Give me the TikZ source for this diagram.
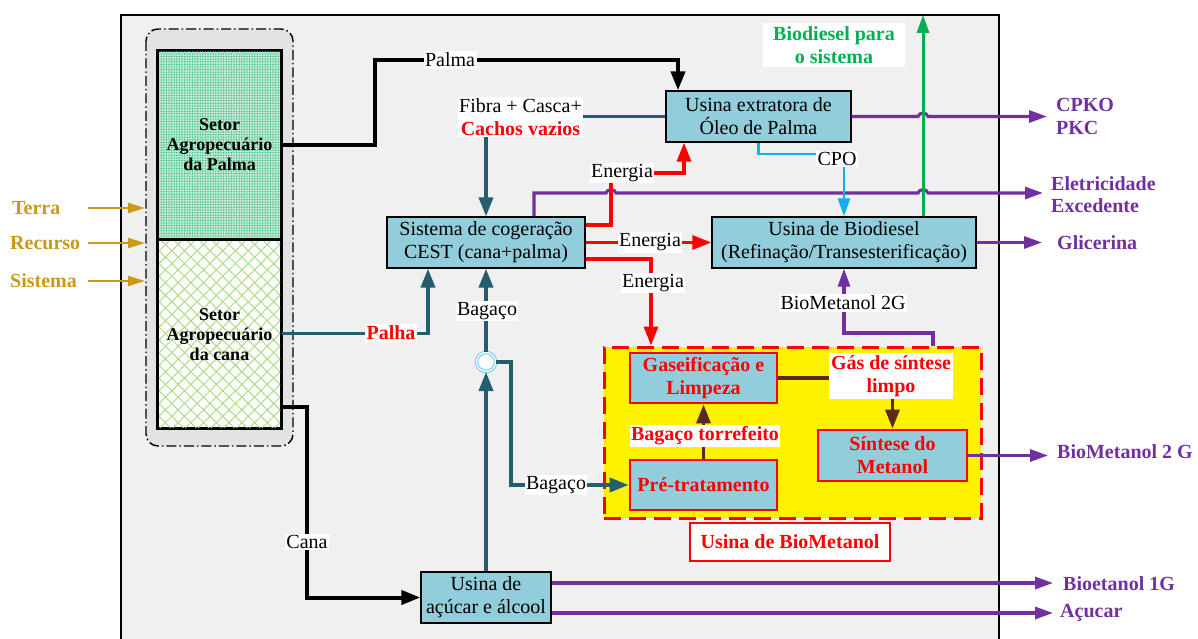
\documentclass[tikz,border=0pt]{standalone}
\usepackage{fontspec}
\setmainfont{Liberation Serif}
\usetikzlibrary{arrows.meta,patterns.meta}
\definecolor{boxblue}{HTML}{92CDDC}
\definecolor{framegray}{HTML}{F0F0F0}
\definecolor{groupgray}{HTML}{E3E3E3}
\definecolor{tealdk}{HTML}{245D6C}
\definecolor{purp}{HTML}{7030A0}
\definecolor{gold}{HTML}{C99A1A}
\definecolor{grn}{HTML}{00B050}
\definecolor{cpoblue}{HTML}{12AEEF}
\definecolor{brownln}{HTML}{5A2A1E}
\definecolor{mint}{HTML}{B4E8CF}
\definecolor{mintdot}{HTML}{2FB072}
\definecolor{canaline}{HTML}{A6DA7E}
\newcommand\rg{\fontsize{20}{23}\selectfont}
\newcommand\rgb{\fontsize{20}{23}\selectfont\bfseries}
\tikzset{
  box/.style={draw=black, line width=1.3pt, fill=boxblue, align=center, font=\rg, inner sep=0pt},
  rbox/.style={draw=red, line width=2.8pt, fill=boxblue, align=center, font=\rgb, text=red, inner sep=0pt},
  lbl/.style={fill=white, inner sep=1.5pt, align=center, font=\rg},
  outlbl/.style={anchor=west, inner sep=0pt, align=left, font=\fontsize{20}{22}\selectfont\bfseries, text=purp},
  inlbl/.style={anchor=west, inner sep=0pt, font=\rgb, text=gold},
  sector/.style={draw=black, line width=2.2pt, minimum width=123pt, align=center, inner sep=0pt,
                 font=\fontsize{18}{20}\selectfont\bfseries},
  tip/.style={-{Triangle[length=19pt,width=14pt]}},
  stip/.style={-{Triangle[length=18pt,width=12pt]}},
  gtip/.style={-{Triangle[length=17pt,width=10pt]}},
  blackln/.style={line width=4pt, draw=black},
  tealln/.style={line width=3.8pt, draw=tealdk},
  redln/.style={line width=3.3pt, draw=red},
  purln/.style={line width=3.1pt, draw=purp},
  brnln/.style={line width=3.2pt, draw=brownln},
}
\begin{document}
\begin{tikzpicture}[x=1pt,y=-1pt]
\useasboundingbox (0,0) rectangle (1198,639);

% outer system boundary
\fill[framegray] (121,15) rectangle (999,650);
\draw[line width=1.3pt] (121,650) -- (121,15) -- (999,15) -- (999,650);

% agricultural sectors group
\draw[fill=groupgray, line width=1.4pt, rounded corners=12pt,
      dash pattern=on 10pt off 3pt on 1.5pt off 3pt] (146,29) rectangle (293,446);
\node[sector, minimum height=188pt, fill=mint] (palma) at (219.5,145) {};
\path[pattern={Dots[distance=2.6pt,radius=0.7pt]}, pattern color=mintdot] (159,52) rectangle (280,238);
\node[sector, minimum height=189pt, fill=white] (cana) at (219.5,333.5) {};
\path[pattern={Lines[angle=45,distance=9pt,line width=0.9pt]}, pattern color=canaline] (159,240) rectangle (280,427);
\path[pattern={Lines[angle=-45,distance=9pt,line width=0.9pt]}, pattern color=canaline] (159,240) rectangle (280,427);
\draw[line width=2.4pt] (palma.north west) rectangle (cana.south east);
\draw[line width=2.4pt] (palma.south west) -- (palma.south east);
\node[align=center, font=\fontsize{18}{20}\selectfont\bfseries] (tpalma) at (219.5,145) {Setor\\Agropecuário\\da Palma};
\node[align=center, font=\fontsize{18}{20}\selectfont\bfseries] (tcana) at (219.5,335) {Setor\\Agropecuário\\da cana};

% inputs
\node[inlbl] (terra) at (12,208) {Terra};
\node[inlbl] (recurso) at (10,243) {Recurso};
\node[inlbl] (sistema) at (10,281) {Sistema};
\coordinate (xin) at (88,0);
\coordinate (xgr) at (145,0);
\foreach \n in {terra,recurso,sistema}
  \draw[gtip, line width=2.2pt, draw=gold, fill=gold] (xin |- \n) -- (xgr |- \n);

% process units
\node[box, minimum width=185pt, minimum height=51pt] (ext) at (758.5,116.5) {Usina extratora de\\Óleo de Palma};
\node[box, minimum width=198pt, minimum height=51pt] (cest) at (486,242.5) {Sistema de cogeração\\CEST (cana+palma)};
\node[box, minimum width=264pt, minimum height=51pt] (bio) at (844,242.5) {Usina de Biodiesel\\(Refinação/Transesterificação)};
\node[box, minimum width=130pt, minimum height=51pt] (acu) at (486,597.5) {Usina de\\açúcar e álcool};

% biomethanol plant
\node[draw=red, line width=3pt, dash pattern=on 17pt off 8pt, fill=yellow,
      minimum width=377pt, minimum height=171pt, inner sep=0pt] (ybox) at (792.5,432.5) {};
\node[rbox, minimum width=147pt, minimum height=50pt] (gas) at (703.5,378) {Gaseificação e\\Limpeza};
\node[rbox, minimum width=147pt, minimum height=50pt] (pre) at (703.5,485) {Pré-tratamento};
\node[rbox, minimum width=149pt, minimum height=51pt] (sin) at (892.5,455.5) {Síntese do\\Metanol};
\node[draw=red, line width=2.8pt, fill=white, minimum width=200pt, minimum height=38pt,
      font=\rgb, text=red, inner sep=0pt] (ubm) at (790,542) {Usina de BioMetanol};

% bagasse junction
\node[circle, draw=cpoblue!65!white, double=white, double distance=1.4pt, line width=1pt,
      fill=white, minimum size=19pt, inner sep=0pt] (jn) at (486,362) {};

% black flows: palm and cane
\coordinate (pk) at (678,60);
\draw[blackln, tip] (palma.east) -- (375,145) |- (pk) -- (pk |- ext.north);
\coordinate (ycana) at (0,407);
\draw[blackln, tip] (cana.east |- ycana) -- (307,407) |- (acu.west);

% teal flows
\draw[tealln, tip] (ext.west) -| (cest.north);
\coordinate (xpalha) at (428,0);
\draw[tealln, tip] (cana.east) -| (xpalha |- cest.south);
\draw[tealln, tip] (acu.north) -- (jn.south);
\draw[tealln, tip] (jn.north) -- (cest.south);
\draw[tealln, tip] (jn.east) -- (511,362) |- (pre.west);

% purple product flows
\coordinate (o1) at (1047,116.5);
\draw[purln, stip] (ext.east) -- (918,116.5) .. controls (919,112) and (927,112) .. (928,116.5) -- (o1);
\coordinate (xel) at (534,0);
\coordinate (o2) at (1043,193);
\draw[purln, stip] (xel |- cest.north) -- (534,193) -- (606,193) .. controls (607,188.5) and (615,188.5) .. (616,193)
  -- (918,193) .. controls (919,188.5) and (927,188.5) .. (928,193) -- (o2);
\coordinate (o3) at (1042,242.5);
\draw[purln, stip] (bio.east) -- (o3);
\coordinate (o4) at (1048,455.5);
\draw[purln, stip] (sin.east) -- (o4);
\coordinate (xbm) at (933,0);
\coordinate (ybm) at (0,333);
\draw[purln, stip] (xbm |- ybox.north) |- (bio.south |- ybm) -- (bio.south);
\coordinate (y583) at (0,583);
\coordinate (y613) at (0,613);
\coordinate (o5) at (1053,583);
\coordinate (o6) at (1053,613);
\draw[purln, stip] (acu.east |- y583) -- (o5);
\draw[purln, stip] (acu.east |- y613) -- (o6);

% red energy flows
\coordinate (y225) at (0,225);
\coordinate (y259) at (0,259);
\coordinate (xe1) at (684,0);
\coordinate (xe3) at (651,0);
\draw[redln, tip] (cest.east |- y225) -- (611,225) -- (611,173) -| (xe1 |- ext.south);
\draw[redln, tip] (cest.east) -- (bio.west);
\draw[redln, tip] (cest.east |- y259) -| (xe3 |- ybox.north);

% crude palm oil
\coordinate (ycpo) at (0,154);
\draw[line width=2.8pt, draw=cpoblue, stip] (ext.south) |- (ycpo -| bio.north) -- (bio.north);

% biodiesel back to the system
\coordinate (xg) at (923,0);
\coordinate (gtop) at (923,15);
\draw[line width=3pt, draw=grn, stip] (xg |- bio.north) -- (gtop);

% internal flows of the biomethanol plant
\draw[brnln, tip] (pre.north) -- (gas.south);
\draw[brnln, tip] (gas.east) -| (sin.north);

% flow labels
\node[lbl] (lpalma) at (450,60) {Palma};
\node[lbl] (lfibra) at (520.5,117) {Fibra + Casca+\\{\color{red}\bfseries Cachos vazios}};
\node[lbl] (len1) at (622,173) {Energia};
\node[lbl] (len2) at (650,242.5) {Energia};
\node[lbl] (len3) at (653,283) {Energia};
\node[lbl] (lcpo) at (837,159) {CPO};
\node[lbl] (lbm) at (843,303) {BioMetanol 2G};
\node[lbl] (lbag1) at (487,311) {Bagaço};
\node[lbl] (lbag2) at (556,485) {Bagaço};
\node[lbl, text=red, font=\rgb] (lpalha) at (391,333) {Palha};
\node[lbl] (lcana) at (307,542) {Cana};
\node[lbl, text=red, font=\rgb] (ltorr) at (705,436) {Bagaço torrefeito};
\node[lbl, text=red, font=\rgb, inner sep=2pt] (lgas) at (891,376) {Gás de síntese\\limpo};
\node[lbl, text=grn, font=\rgb, inner xsep=10pt, inner ysep=3pt] (lbds) at (834,45) {Biodiesel para\\o sistema};

% outputs
\node[outlbl, font=\fontsize{20}{23}\selectfont\bfseries] (cpko) at (1056,116.5) {CPKO\\PKC};
\node[outlbl] (elet) at (1051,195) {Eletricidade\\Excedente};
\node[outlbl] (glic) at (1057,243) {Glicerina};
\node[outlbl] (bm2) at (1057,452) {BioMetanol 2 G};
\node[outlbl] (be1) at (1063,584) {Bioetanol 1G};
\node[outlbl] (acuc) at (1060,613) {Açucar};
\end{tikzpicture}
\end{document}
